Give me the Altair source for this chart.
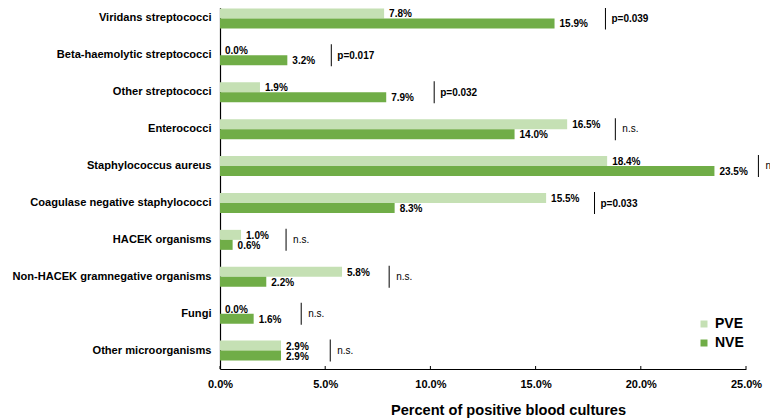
import altair as alt
import pandas as pd

categories = [
    "Viridans streptococci",
    "Beta-haemolytic streptococci",
    "Other streptococci",
    "Enterococci",
    "Staphylococcus aureus",
    "Coagulase negative staphylococci",
    "HACEK organisms",
    "Non-HACEK gramnegative organisms",
    "Fungi",
    "Other microorganisms",
]
pve = [7.8, 0.0, 1.9, 16.5, 18.4, 15.5, 1.0, 5.8, 0.0, 2.9]
nve = [15.9, 3.2, 7.9, 14.0, 23.5, 8.3, 0.6, 2.2, 1.6, 2.9]
groups = ["PVE", "NVE"]
sig_text = ["p=0.039", "p=0.017", "p=0.032", "n.s.", "n.s.", "p=0.033",
            "n.s.", "n.s.", "n.s.", "n.s."]
sig_x = [18.32, 5.29, 10.18, 18.79, 25.59, 17.80, 3.14, 8.04, 3.86, 5.24]
tick_values = [0, 5, 10, 15, 20, 25]

F = "Liberation Sans, Arial, Helvetica, sans-serif"

rows = []
for c, a, b in zip(categories, pve, nve):
    rows.append({"category": c, "group": "PVE", "value": a, "label": f"{a:.1f}%"})
    rows.append({"category": c, "group": "NVE", "value": b, "label": f"{b:.1f}%"})
bars_df = pd.DataFrame(rows)
sig_df = pd.DataFrame({"category": categories, "value": sig_x, "text": sig_text})
sig_df["bold"] = sig_df["text"].str.startswith("p")
ticks_df = pd.DataFrame({"value": tick_values})

xscale = alt.Scale(domain=[0, 25], nice=False)
yscale = alt.Scale(range=[-8, 361], paddingInner=0.458, paddingOuter=0.229)

x_axis = alt.Axis(
    values=tick_values,
    labelExpr="format(datum.value, '.1f') + '%'",
    title="Percent of positive blood cultures",
    titleFont=F, titleFontSize=14.6, titleFontWeight="bold", titleColor="black",
    titleX=288, titleY=45, titleBaseline="alphabetic", titleAlign="center",
    labelFont=F, labelFontSize=11, labelFontWeight="bold", labelColor="black",
    labelPadding=9, labelFlush=False, ticks=False, tickSize=0, grid=False,
    domainColor="black", domainWidth=1.2,
)
y_axis = alt.Axis(
    title=None, ticks=False, tickSize=0, grid=False,
    labelFont=F, labelFontSize=11.1, labelFontWeight="bold", labelColor="black",
    labelPadding=9, domainColor="black", domainWidth=1.2, labelLimit=400,
)
X = alt.X("value:Q", scale=xscale, axis=x_axis)
Y = alt.Y("category:N", sort=categories, scale=yscale, axis=y_axis)
yoff = alt.YOffset("group:N", sort=groups, scale=alt.Scale(domain=groups, paddingInner=0.0))

bars = alt.Chart(bars_df).mark_bar().encode(
    x=X,
    y=Y,
    yOffset=yoff,
    color=alt.Color(
        "group:N", sort=groups,
        scale=alt.Scale(domain=groups, range=["#C5E0B4", "#70AD47"]),
        legend=alt.Legend(
            title=None, orient="none", legendX=477, legendY=309,
            symbolType="square", symbolSize=49, symbolStrokeWidth=0,
            labelFont=F, labelFontSize=14, labelFontWeight="bold", labelColor="black",
            labelOffset=4, rowPadding=5, padding=0,
        ),
    ),
)

values_text = alt.Chart(bars_df).mark_text(
    align="left", baseline="middle", dx=5, dy=1,
    font=F, fontSize=10, fontWeight="bold", color="black",
).encode(x=X, y=Y, yOffset=yoff, text="label:N")

sig_lines = alt.Chart(sig_df).mark_tick(
    orient="vertical", size=22, thickness=1, color="black", opacity=1
).encode(x=X, y=Y)

sig_bold = alt.Chart(sig_df).transform_filter("datum.bold").mark_text(
    align="left", baseline="middle", dx=6, dy=1,
    font=F, fontSize=10, fontWeight="bold", color="black",
).encode(x=X, y=Y, text="text:N")

sig_plain = alt.Chart(sig_df).transform_filter("!datum.bold").mark_text(
    align="left", baseline="middle", dx=7, dy=0,
    font=F, fontSize=10, fontWeight="normal", color="black",
).encode(x=X, y=Y, text="text:N")

axis_ticks = alt.Chart(ticks_df).mark_rule(color="black", strokeWidth=1).encode(
    x=X, y=alt.value(358), y2=alt.value(361)
)

chart = alt.layer(
    bars, values_text, sig_lines, sig_bold, sig_plain, axis_ticks
).properties(
    width=526, height=361,
    background="white",
    autosize=alt.AutoSizeParams(type="none"),
    padding={"left": 212, "top": 0, "right": 24, "bottom": 49},
).configure_view(stroke=None)

chart.save("out.html", embed_options={"renderer": "svg", "actions": False})
